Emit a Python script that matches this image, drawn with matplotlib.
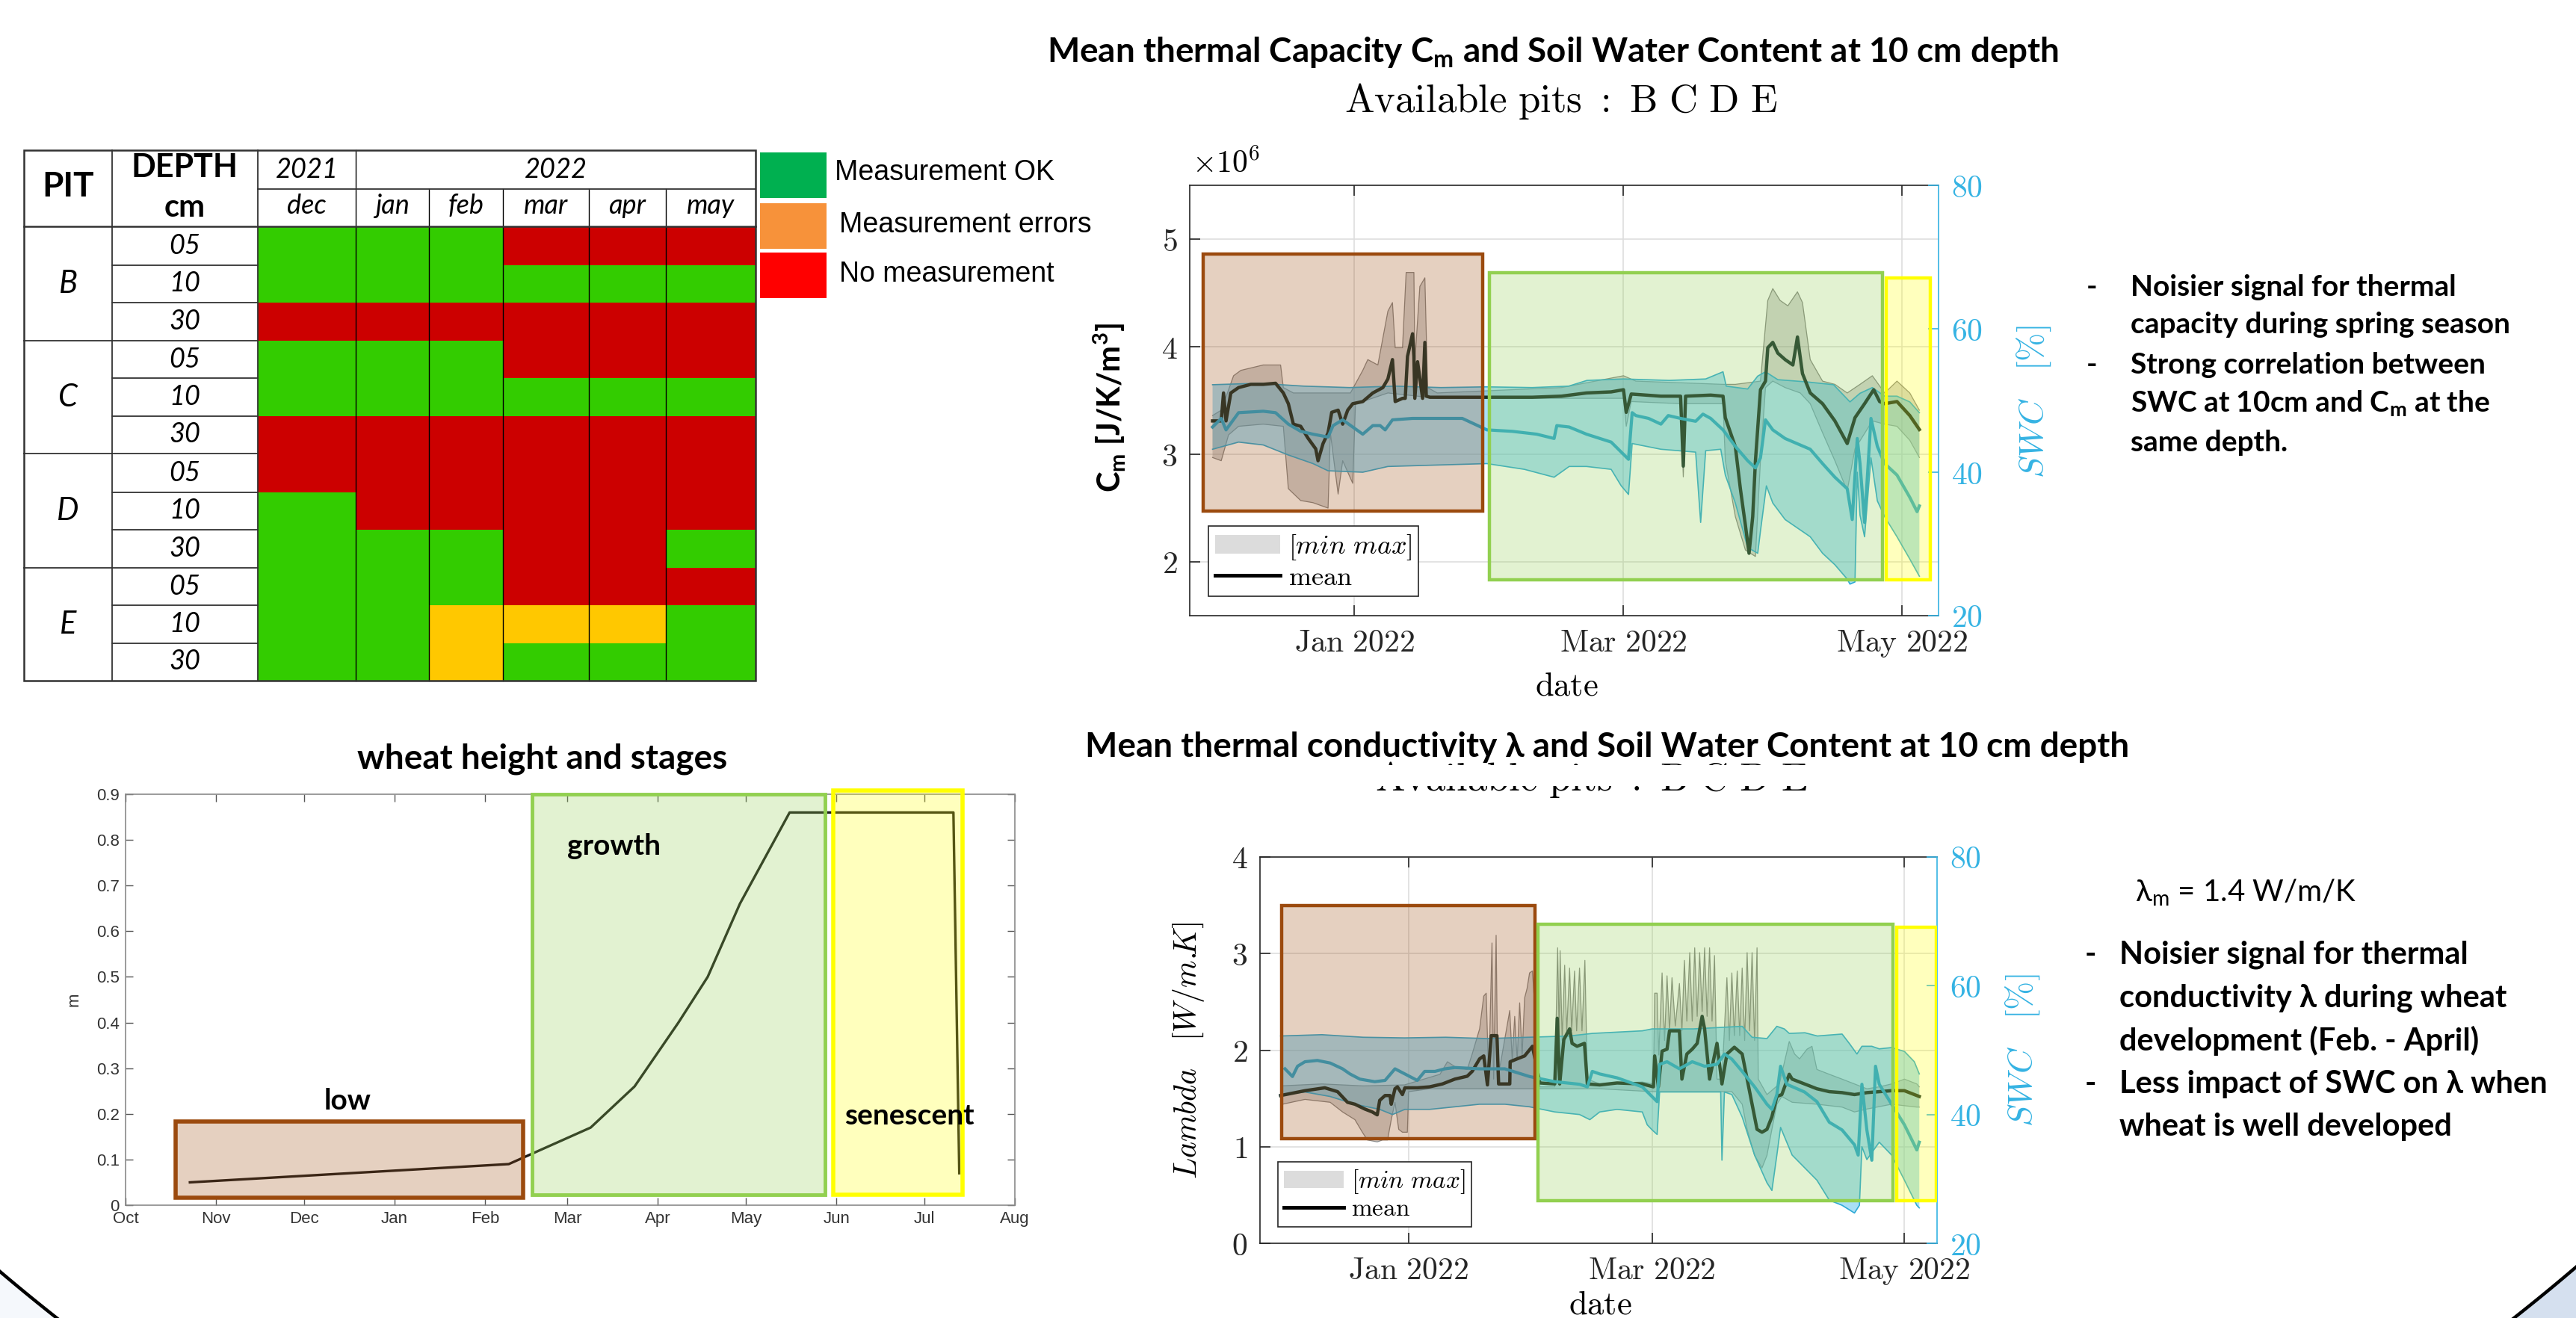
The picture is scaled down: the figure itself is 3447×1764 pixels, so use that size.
import numpy as np
import matplotlib
matplotlib.use('Agg')
import matplotlib.pyplot as plt
import matplotlib.dates as mdates
from matplotlib.patches import Rectangle, Polygon, Patch
from matplotlib.lines import Line2D
from matplotlib.ticker import FixedLocator, FixedFormatter
import datetime as dt

plt.rcParams['font.family'] = ['Lato', 'DejaVu Sans']
plt.rcParams['mathtext.fontset'] = 'cm'

W, H = 3447, 1764

# ======================= DATA =======================
# --- measurement availability table
table_years = ['2021', '2022']
table_months = ['dec', 'jan', 'feb', 'mar', 'apr', 'may']
table_pits = ['B', 'C', 'D', 'E']
table_depths = ['05', '10', '30']
# G = measurement OK, Y = measurement errors, R = no measurement
table_status = ['GGGRRR', 'GGGGGG', 'RRRRRR',
                'GGGRRR', 'GGGGGG', 'RRRRRR',
                'RRRRRR', 'GRRRRR', 'GGGRRG',
                'GGGRRR', 'GGYYYG', 'GGYGGG']
status_labels = ['Measurement OK', 'Measurement errors', 'No measurement']

# --- wheat height
wheat_dates = ['2021-10-23', '2022-02-09', '2022-03-09', '2022-03-24', '2022-04-08',
               '2022-04-18', '2022-04-29', '2022-05-16', '2022-07-11', '2022-07-13']
wheat_height = [0.05, 0.09, 0.17, 0.26, 0.40, 0.50, 0.66, 0.86, 0.86, 0.07]
wheat_stages = ['low', 'growth', 'senescent']

# --- thermal capacity Cm (x1e6 J/K/m3), (days since 2021-12-01, value)
cm_mean = [(0, 3.31), (1.9, 3.31), (2.4, 3.57), (2.95, 3.31), (4.0, 3.57), (5.7, 3.62), (8.4, 3.65),
           (11.1, 3.65), (13.8, 3.66), (15.5, 3.57), (16.6, 3.47), (17.7, 3.28), (19.3, 3.26),
           (20.9, 3.15), (22.6, 3.05), (23.1, 2.94), (24.2, 3.10), (25.3, 3.20), (26.1, 3.39),
           (27.5, 3.41), (28.5, 3.28), (29.6, 3.41), (30.7, 3.47), (32.9, 3.49), (35.1, 3.57),
           (37.3, 3.62), (38.4, 3.70), (39.4, 3.88), (40.0, 3.49), (41.6, 3.52), (42.2, 3.52),
           (42.7, 3.91), (43.8, 4.12), (44.1, 3.91), (44.3, 3.52), (44.9, 3.86), (46.0, 3.52),
           (46.5, 4.04), (46.8, 3.54), (47.6, 3.53), (49.2, 3.53), (60, 3.53), (70, 3.53),
           (76.4, 3.54), (81.9, 3.57), (87.3, 3.58), (90.0, 3.60), (90.6, 3.39), (91.7, 3.56),
           (98.2, 3.54), (102.5, 3.54), (103.1, 2.89), (103.6, 3.54), (109.1, 3.55), (111.8, 3.54),
           (112.3, 3.34), (114.5, 3.07), (115.6, 2.68), (116.7, 2.34), (117.5, 2.08), (118.3, 2.42),
           (118.9, 2.94), (120.0, 3.60), (121.1, 3.68), (121.6, 3.99), (122.7, 4.04), (123.8, 3.94),
           (125.4, 3.88), (127.1, 3.83), (128.1, 4.09), (129.2, 3.75), (130.9, 3.57), (133.6, 3.47),
           (136.3, 3.31), (139.0, 3.10), (140.7, 3.34), (142.8, 3.47), (144.8, 3.60), (146.1, 3.49),
           (147.2, 3.47), (149.9, 3.49), (152.7, 3.36), (154.8, 3.23)]
cm_max = [(0, 3.36), (1.9, 3.41), (4.6, 3.73), (6.2, 3.78), (11.1, 3.83), (14.9, 3.83), (15.5, 3.62),
          (17.7, 3.57), (22.0, 3.57), (30.2, 3.57), (32.9, 3.78), (34.0, 3.88), (36.2, 3.83),
          (38.4, 4.33), (39.4, 4.41), (40.0, 3.99), (41.6, 3.99), (42.4, 4.69), (44.1, 4.69),
          (44.3, 3.86), (45.4, 4.56), (46.5, 4.64), (47.1, 3.62), (49.2, 3.57), (76.4, 3.62),
          (90.0, 3.73), (92.7, 3.68), (111.8, 3.65), (114.5, 3.65), (120.0, 3.68), (121.6, 4.43),
          (122.7, 4.54), (124.3, 4.43), (126.0, 4.38), (128.1, 4.51), (129.2, 4.41), (130.9, 3.88),
          (133.6, 3.68), (136.3, 3.65), (139.0, 3.57), (141.8, 3.65), (144.5, 3.73), (147.2, 3.57),
          (149.9, 3.68), (152.7, 3.57), (154.8, 3.41)]
cm_min = [(0, 2.97), (1.9, 2.94), (3.5, 3.18), (5.7, 3.26), (11.1, 3.28), (15.5, 3.26), (16.6, 2.68),
          (19.3, 2.57), (22.0, 2.55), (25.3, 2.50), (25.8, 3.20), (27.5, 2.63), (28.5, 2.94),
          (30.7, 2.73), (31.3, 3.47), (32.9, 3.49), (38.4, 3.57), (49.2, 3.52), (76.4, 3.52),
          (90.0, 3.52), (90.6, 3.26), (91.7, 3.49), (102.5, 3.47), (103.1, 2.79), (103.6, 3.47),
          (111.8, 3.47), (112.3, 2.94), (114.5, 2.42), (116.7, 2.11), (117.8, 2.08), (118.9, 2.05),
          (120.0, 2.94), (121.1, 3.62), (122.7, 3.68), (125.4, 3.62), (128.7, 3.57), (130.9, 3.47),
          (133.6, 3.20), (136.3, 2.94), (139.0, 2.66), (140.7, 3.05), (144.5, 3.31), (147.2, 3.28),
          (149.9, 3.26), (152.7, 3.13), (154.8, 2.97)]
# --- soil water content (%) shown with the Cm chart
swc1_mean = [(0, 46.3), (1.9, 47.5), (2.95, 45.9), (5.7, 48.3), (11.1, 48.5), (13.8, 48.3), (16.6, 46.7),
             (19.3, 45.7), (22.0, 45.3), (25.3, 44.9), (26.4, 46.5), (28.5, 47.3), (30.7, 46.3),
             (32.9, 45.3), (35.1, 46.5), (36.7, 46.5), (37.8, 45.9), (39.4, 47.3), (43.8, 47.5),
             (49.2, 47.5), (54.7, 47.5), (57.4, 46.7), (60.1, 45.9), (65.6, 45.7), (71.0, 45.3),
             (74.8, 44.7), (75.4, 46.5), (78.1, 46.3), (81.9, 45.3), (87.3, 44.2), (91.1, 41.8),
             (91.9, 48.3), (92.7, 47.9), (95.5, 47.5), (98.2, 46.7), (99.8, 47.9), (102.5, 47.5),
             (105.8, 47.1), (107.4, 48.1), (109.1, 47.5), (111.8, 45.9), (114.5, 43.6), (117.2, 41.6),
             (118.9, 40.6), (120.0, 42.0), (121.1, 47.3), (122.7, 45.9), (125.4, 44.7), (130.9, 43.2),
             (133.6, 41.2), (136.3, 39.3), (139.0, 37.7), (140.1, 33.4), (141.2, 44.7), (141.8, 41.2),
             (142.8, 33.0), (144.2, 47.5), (145.6, 43.6), (147.2, 41.2), (149.9, 39.6), (152.7, 36.5),
             (154.3, 34.5), (154.8, 35.3)]
swc1_max = [(0, 52.2), (10, 52.4), (20, 52.0), (30, 51.8), (40, 52.0), (50, 51.8), (60, 51.9), (70, 51.8),
            (78, 52.0), (82, 52.8), (90, 53.0), (100, 52.8), (108, 53.0), (111.8, 54.0), (112.5, 52.0),
            (117.2, 51.6), (119.4, 53.4), (121.1, 54.0), (123.8, 52.9), (130, 52.6), (136, 52.2),
            (139.6, 49.8), (141.8, 51.0), (144.5, 51.8), (147.2, 50.6), (149.9, 50.6), (152.7, 49.8),
            (154.8, 48.3)]
swc1_min = [(0, 43.2), (5.7, 44.2), (11.1, 43.8), (16.6, 42.4), (22.0, 41.2), (25.3, 40.2), (32.9, 40.0),
            (38.4, 40.8), (49.2, 41.0), (60.1, 41.2), (68.3, 40.4), (74.8, 39.3), (78.1, 40.8),
            (81.9, 40.8), (87.3, 40.4), (89.5, 38.1), (91.1, 36.9), (91.9, 44.0), (98.2, 43.2),
            (105.8, 42.8), (106.9, 33.0), (108.0, 43.0), (111.3, 43.2), (112.3, 39.6), (114.5, 35.7),
            (117.2, 29.5), (119.4, 28.7), (120.0, 31.8), (121.3, 38.1), (122.7, 35.7), (125.4, 33.4),
            (130.9, 31.0), (133.6, 28.7), (136.3, 27.1), (139.0, 25.1), (139.6, 24.4), (140.7, 24.7),
            (141.2, 40.0), (141.8, 34.0), (142.8, 31.0), (144.2, 42.0), (145.6, 36.0), (147.2, 33.8),
            (149.9, 31.0), (152.7, 27.9), (154.8, 25.5)]

# --- thermal conductivity lambda (W/m.K)
lam_mean = [(0.0, 1.53), (5.9, 1.58), (10.7, 1.61), (13.8, 1.57), (16.2, 1.46), (18.0, 1.44), (20.4, 1.39),
            (22.2, 1.36), (23.4, 1.33), (24.0, 1.48), (25.3, 1.53), (26.5, 1.53), (26.8, 1.44),
            (27.7, 1.60), (28.3, 1.62), (29.5, 1.54), (30.1, 1.61), (33.1, 1.61), (36.1, 1.62),
            (39.2, 1.65), (42.2, 1.70), (45.2, 1.73), (46.4, 1.78), (48.2, 1.91), (49.2, 1.94),
            (50.1, 1.64), (51.0, 2.15), (52.4, 2.15), (52.8, 1.65), (55.5, 1.65), (55.6, 1.88),
            (57.3, 1.91), (59.1, 1.94), (61.0, 2.04), (62.8, 1.66), (66.4, 1.65), (67.0, 2.33),
            (67.6, 1.65), (68.6, 2.11), (70.0, 2.22), (70.6, 2.07), (71.8, 2.04), (73.6, 2.07),
            (74.3, 1.65), (77.3, 1.64), (81.5, 1.66), (87.6, 1.65), (90.3, 1.62), (90.6, 1.94),
            (91.5, 1.62), (92.4, 1.99), (93.6, 2.01), (94.2, 2.20), (96.6, 2.20), (97.2, 1.70),
            (98.4, 1.96), (99.7, 2.01), (100.9, 2.07), (102.1, 2.35), (102.7, 2.22), (103.9, 1.70),
            (105.7, 2.07), (106.9, 1.65), (108.1, 1.96), (109.9, 2.03), (111.8, 1.96), (113.0, 1.70),
            (114.2, 1.44), (115.4, 1.18), (116.6, 1.15), (117.8, 1.18), (119.0, 1.31), (120.2, 1.52),
            (121.4, 1.54), (123.2, 1.75), (123.9, 1.70), (126.9, 1.65), (129.9, 1.60), (132.9, 1.57),
            (136.0, 1.56), (139.0, 1.54), (142.0, 1.56), (145.0, 1.57), (148.0, 1.58), (151.1, 1.58),
            (154.1, 1.53), (154.7, 1.52)]
lam_max = [(0, 1.63), (10, 1.65), (20, 1.63), (30, 1.64), (38.6, 1.75), (40.4, 1.88), (42.2, 1.83),
           (45.2, 1.80), (46.4, 1.96), (48.2, 2.22), (49.2, 2.56), (49.8, 2.59), (50.4, 1.70),
           (51.2, 3.11), (51.6, 1.70), (52.2, 3.19), (52.6, 1.70), (55.5, 2.41), (56.1, 1.9),
           (56.7, 2.35), (57.3, 1.9), (57.9, 2.49), (58.5, 1.95), (59.1, 2.54), (59.7, 2.64),
           (60.3, 2.80), (61.0, 2.82), (62.8, 1.62), (66.4, 1.62), (67.1, 3.06), (67.5, 2.10),
           (67.7, 3.03), (68.2, 2.10), (68.8, 2.88), (69.3, 2.20), (70.0, 2.85), (70.5, 2.20),
           (71.2, 2.82), (71.7, 2.20), (72.4, 2.85), (73.0, 2.20), (73.7, 2.93), (74.3, 1.70),
           (77.3, 1.65), (87.6, 1.67), (90.3, 1.65), (90.6, 2.59), (91.2, 2.59), (91.6, 1.95),
           (92.4, 2.80), (93.0, 2.10), (93.6, 2.77), (94.2, 2.20), (94.8, 2.75), (95.6, 2.25),
           (96.6, 2.69), (97.2, 2.20), (97.8, 2.93), (98.4, 2.30), (99.1, 3.01), (99.7, 2.30),
           (100.3, 3.06), (100.9, 2.35), (101.5, 3.01), (102.1, 2.40), (102.7, 3.06), (103.3, 2.35),
           (103.9, 3.06), (104.5, 2.30), (105.1, 2.98), (105.7, 1.70), (106.9, 1.70), (108.1, 2.75),
           (108.7, 2.10), (109.3, 2.80), (109.9, 2.15), (110.6, 2.82), (111.2, 2.15), (111.8, 2.85),
           (112.4, 2.10), (113.0, 3.01), (113.6, 2.20), (114.2, 3.01), (114.8, 2.10), (115.4, 3.06),
           (115.7, 1.70), (117.8, 1.54), (120.8, 1.65), (123.2, 2.09), (124.5, 1.96), (125.7, 1.91),
           (127.5, 2.01), (128.7, 2.04), (129.9, 1.80), (132.9, 1.75), (136.0, 1.70), (139.0, 1.65),
           (142.0, 1.60), (145.0, 1.62), (148.0, 1.65), (151.1, 1.70), (154.1, 1.65), (154.7, 1.62)]
lam_min = [(0.45, 1.44), (5.9, 1.49), (12.0, 1.46), (15.0, 1.36), (18.0, 1.28), (19.8, 1.15), (21.0, 1.07),
           (23.4, 1.05), (24.7, 1.07), (25.9, 1.07), (26.8, 1.28), (27.7, 1.46), (28.6, 1.18),
           (29.5, 1.15), (30.7, 1.15), (31.0, 1.57), (36.1, 1.60), (77.3, 1.60), (90.0, 1.57),
           (106.9, 1.57), (109.3, 1.57), (111.8, 1.44), (113.0, 1.18), (114.8, 0.91), (116.6, 0.78),
           (117.8, 0.91), (119.0, 1.18), (120.2, 1.44), (121.4, 1.52), (123.9, 1.46), (129.9, 1.44),
           (136.0, 1.41), (139.0, 1.36), (142.0, 1.39), (148.0, 1.44), (154.1, 1.41), (154.7, 1.41)]
# --- soil water content (%) shown with the lambda chart
swc2_mean = [(1.06, 47.1), (2.87, 45.9), (4.1, 47.5), (5.9, 48.2), (8.9, 48.4), (12.0, 48.0), (15.0, 47.1),
             (16.8, 46.3), (19.2, 45.5), (22.8, 45.1), (25.3, 45.3), (27.7, 47.1), (30.1, 46.3),
             (33.1, 45.3), (34.9, 46.7), (37.4, 46.7), (39.8, 47.1), (42.2, 47.3), (48.2, 47.1),
             (54.3, 47.1), (57.3, 46.5), (60.3, 45.9), (66.4, 45.1), (72.4, 44.7), (74.3, 44.3),
             (75.5, 46.7), (77.3, 46.3), (81.5, 45.7), (87.6, 44.3), (91.2, 42.0), (91.8, 47.8),
             (93.6, 48.2), (96.6, 47.1), (99.7, 48.2), (102.7, 47.5), (105.7, 47.8), (107.5, 49.4),
             (109.3, 48.6), (111.8, 46.7), (114.8, 44.3), (117.8, 41.6), (119.0, 40.8), (120.2, 43.1),
             (121.1, 47.5), (122.6, 44.7), (126.9, 43.5), (129.9, 42.0), (132.9, 38.8), (136.0, 37.6),
             (139.0, 35.3), (139.9, 33.7), (140.8, 44.7), (142.0, 37.6), (143.2, 32.9), (144.1, 47.5),
             (145.0, 44.7), (148.0, 41.6), (151.1, 38.4), (154.1, 34.5), (154.7, 35.7)]
swc2_max = [(0, 52.2), (10, 52.4), (20, 52.0), (30, 51.9), (40, 52.0), (50, 51.8), (60, 52.0), (70, 52.2),
            (75.5, 52.6), (87.6, 53.0), (90, 53.3), (100, 53.3), (105.7, 53.5), (111.8, 53.7),
            (114.2, 52.0), (117.8, 51.8), (120.2, 53.7), (122, 53.3), (123.2, 52.6), (127, 52.7),
            (130, 52.2), (136, 52.5), (137.8, 51.0), (139.6, 49.4), (140.8, 50.6), (143.2, 50.6),
            (145, 50.2), (148, 50.4), (151.1, 49.8), (153.5, 48.2), (154.7, 46.3)]
swc2_min = [(0.45, 43.1), (5.9, 43.5), (12.0, 42.8), (18.0, 41.6), (24.0, 40.8), (27.1, 40.0), (30.1, 40.8),
            (36.1, 40.8), (42.2, 41.2), (48.2, 41.6), (54.3, 41.6), (60.3, 41.2), (66.4, 40.4),
            (72.4, 40.0), (74.9, 39.2), (77.3, 40.4), (81.5, 40.8), (87.6, 40.4), (88.8, 38.4),
            (90.0, 37.6), (91.2, 36.9), (91.8, 43.5), (99.7, 43.5), (106.6, 43.5), (106.9, 32.9),
            (107.5, 43.5), (109.3, 43.1), (111.8, 39.6), (114.8, 33.7), (117.8, 29.4), (119.0, 28.2),
            (120.2, 33.7), (121.1, 38.0), (123.9, 33.7), (129.9, 29.8), (132.9, 26.7), (136.0, 25.9),
            (139.0, 24.7), (140.2, 25.9), (140.8, 35.0), (142.0, 33.0), (145.0, 35.7), (148.0, 33.7),
            (151.1, 29.8), (154.1, 25.9), (154.7, 25.5)]

# ======================= STYLE =======================
CYAN = '#35b3e3'
BROWN_E, GREEN_E, YELLOW_E = '#9b4a0e', '#92d050', '#ffff00'
STAGE_ALPHA = 0.26
STATUS_COL = {'G': '#33cc00', 'R': '#cc0000', 'Y': '#ffc800'}
LEG_COL = ['#00b050', '#f7923a', '#ff0000']

d0 = mdates.date2num(dt.datetime(2021, 12, 1))


def uz(pairs):
    a = np.asarray(pairs, float)
    return a[:, 0] + d0, a[:, 1]


def px_rect(l, t, r, b):
    return [l / W, 1 - b / H, (r - l) / W, (b - t) / H]


def face(col):
    return matplotlib.colors.to_rgba(col, STAGE_ALPHA)


fig = plt.figure(figsize=(W / 100, H / 100), dpi=100)
bg = fig.add_axes([0, 0, 1, 1])
bg.set_xlim(0, W)
bg.set_ylim(H, 0)
bg.axis('off')
bg.set_zorder(-5)

# ---------- slide border arcs
cx, cy, R = 1720, -322, 2656
xa = np.linspace(0, 95, 80)
ya = cy + np.sqrt(R ** 2 - (xa - cx) ** 2)
bg.add_patch(Polygon(np.c_[np.r_[xa, 95, 0], np.r_[ya, 1800, 1800]], closed=True,
                     facecolor='#f5f8fc', edgecolor='none'))
bg.plot(xa, ya, color='black', lw=3.2)
xb = np.linspace(3335, W, 80)
yb = cy + np.sqrt(R ** 2 - (xb - cx) ** 2)
bg.add_patch(Polygon(np.c_[np.r_[xb, W, 3335], np.r_[yb, 1800, 1800]], closed=True,
                     facecolor='#d5e0ef', edgecolor='none'))
bg.plot(xb, yb, color='black', lw=3.2)

# ---------- availability table
tx = [31.5, 150, 345, 476, 574, 673, 788, 891, 1011]
ty = [303, 355, 405, 456, 506, 557, 607, 659, 709, 760, 810, 861, 911]
t_top, t_mid = 201, 253
for r, row in enumerate(table_status):
    for c, s in enumerate(row):
        bg.add_patch(Rectangle((tx[c + 2], ty[r]), tx[c + 3] - tx[c + 2], ty[r + 1] - ty[r],
                               facecolor=STATUS_COL[s], edgecolor='none', zorder=1))
lc = '#333333'
for x in tx[4:8]:
    bg.plot([x, x], [t_mid, ty[-1]], color='black', lw=1.0, zorder=2)
bg.plot([tx[3], tx[3]], [t_top, ty[-1]], color='black', lw=1.0, zorder=2)
for x in [tx[1], tx[2]]:
    bg.plot([x, x], [t_top, ty[-1]], color=lc, lw=1.3, zorder=2)
bg.plot([tx[2], tx[-1]], [t_mid, t_mid], color=lc, lw=1.3, zorder=2)
bg.plot([tx[0], tx[-1]], [ty[0], ty[0]], color=lc, lw=1.8, zorder=2)
for i, y in enumerate(ty[1:-1], start=1):
    x0 = tx[0] if i % 3 == 0 else tx[1]
    bg.plot([x0, tx[2]], [y, y], color=lc, lw=1.3, zorder=2)
bg.add_patch(Rectangle((tx[0], t_top), tx[-1] - tx[0], ty[-1] - t_top, facecolor='none',
                       edgecolor=lc, lw=1.8, zorder=3))
bg.text(91, 250, 'PIT', fontsize=33, fontweight='bold', ha='center', va='center')
bg.text(247, 224, 'DEPTH', fontsize=31, fontweight='bold', ha='center', va='center')
bg.text(247, 278, 'cm', fontsize=30, fontweight='bold', ha='center', va='center')
bg.text((tx[2] + tx[3]) / 2, 227, table_years[0], fontsize=26, style='italic', ha='center', va='center')
bg.text((tx[3] + tx[-1]) / 2, 227, table_years[1], fontsize=26, style='italic', ha='center', va='center')
for c, m in enumerate(table_months):
    bg.text((tx[c + 2] + tx[c + 3]) / 2, 276, m, fontsize=26, style='italic', ha='center', va='center')
for p, pit in enumerate(table_pits):
    bg.text(91, (ty[3 * p] + ty[3 * p + 3]) / 2, pit, fontsize=30, style='italic', ha='center', va='center')
    for k, dep in enumerate(table_depths):
        r = 3 * p + k
        bg.text(247, (ty[r] + ty[r + 1]) / 2, dep, fontsize=26, style='italic', ha='center', va='center')
leg_y = [(204, 265), (272, 333), (338, 399)]
leg_tx = [(1117, 231), (1123, 301), (1123, 367)]
for (a, b), col, lab, (lx, ly) in zip(leg_y, LEG_COL, status_labels, leg_tx):
    bg.add_patch(Rectangle((1017, a), 89, b - a, facecolor=col, edgecolor='none'))
    bg.text(lx, ly, lab, fontsize=27, family=['Liberation Sans', 'DejaVu Sans'], ha='left', va='center')

# ---------- wheat height chart
axw = fig.add_axes(px_rect(168, 1063, 1358, 1613))
wx = mdates.date2num(np.array(wheat_dates, dtype='datetime64[D]'))
axw.plot(wx, wheat_height, color='#1a1a1a', lw=2.4, zorder=3)
axw.set_xlim(mdates.date2num(dt.datetime(2021, 10, 1)), mdates.date2num(dt.datetime(2022, 8, 1)))
axw.set_ylim(0, 0.9)
axw.xaxis.set_major_locator(mdates.MonthLocator())
axw.xaxis.set_major_formatter(mdates.DateFormatter('%b'))
axw.set_yticks(np.round(np.arange(0, 0.91, 0.1), 1))
axw.set_yticklabels(['0'] + ['%.1f' % v for v in np.arange(0.1, 0.91, 0.1)])
axw.tick_params(direction='in', top=True, right=True, length=7, width=1, colors='#555555',
                labelsize=16, labelcolor='#333333', pad=6)
for lab in axw.get_xticklabels() + axw.get_yticklabels():
    lab.set_family(['Liberation Sans Narrow', 'Liberation Sans'])
for s in axw.spines.values():
    s.set_color('#8a8a8a')
    s.set_linewidth(1.2)
axw.set_ylabel('m', fontsize=16, family=['Liberation Sans'], color='#333333', labelpad=14)
wstage = [('2021-10-18', '2022-02-14', 0.016, 0.183, BROWN_E, 4.0),
          ('2022-02-17', '2022-05-28', 0.0226, 0.900, GREEN_E, 3.5),
          ('2022-05-31', '2022-07-14', 0.0226, 0.908, YELLOW_E, 4.0)]
for a, b, y0, y1, ec, lw in wstage:
    xa0, xa1 = mdates.date2num(np.datetime64(a)), mdates.date2num(np.datetime64(b))
    axw.add_patch(Rectangle((xa0, y0), xa1 - xa0, y1 - y0, facecolor=face(ec), edgecolor=ec, lw=lw,
                            zorder=4, clip_on=False))
for name, d, y in zip(wheat_stages, ['2021-12-16', '2022-03-17', '2022-06-26'], [0.229, 0.787, 0.196]):
    axw.text(mdates.date2num(np.datetime64(d)), y, name, fontsize=28, fontweight='bold',
             ha='center', va='center', zorder=6)
bg.text(726, 1016, 'wheat height and stages', fontsize=33, fontweight='bold', ha='center', va='center')


# ---------- thermal charts
def thermal_chart(box, ylim, yticks, mean, vmax, vmin, s_mean, s_max, s_min, stages,
                  leg_xy, leg_fs, ylabel, ylab_kw, ylab_xy, swc_xy, date_y):
    ax = fig.add_axes(px_rect(*box))
    ax2 = ax.twinx()
    xu, yu = uz(vmax)
    xl, yl = uz(vmin)
    ax.fill(np.r_[xu, xl[::-1]], np.r_[yu, yl[::-1]], facecolor='#8c8c8c', alpha=0.38,
            edgecolor='none', zorder=2)
    ax.plot(xu, yu, color='#6f6f6f', lw=0.9, alpha=0.8, zorder=2.1)
    ax.plot(xl, yl, color='#6f6f6f', lw=0.9, alpha=0.8, zorder=2.1)
    xu, yu = uz(s_max)
    xl, yl = uz(s_min)
    ax2.fill(np.r_[xu, xl[::-1]], np.r_[yu, yl[::-1]], facecolor='#4dbeee', alpha=0.48,
             edgecolor='none', zorder=2)
    ax2.plot(xu, yu, color='#2eaad6', lw=1.2, zorder=2.1)
    ax2.plot(xl, yl, color='#2eaad6', lw=1.2, zorder=2.1)
    xm, ym = uz(mean)
    ax2.plot(xm, ym, color='#16302d', lw=3.2, zorder=3, transform=ax.transData)
    xm, ym = uz(s_mean)
    ax2.plot(xm, ym, color='#25a6d2', lw=3.0, zorder=3.5)
    for a, b, y0, y1, ec in stages:
        ax2.add_patch(Rectangle((d0 + a, y0), b - a, y1 - y0, transform=ax.transData,
                                facecolor=face(ec), edgecolor=ec, lw=3.2, zorder=5))
    ax.set_xlim(d0 - 5, d0 + 159)
    ax.set_ylim(*ylim)
    ax2.set_ylim(20, 80)
    xt = [mdates.date2num(dt.datetime(2022, m, 1)) for m in (1, 3, 5)]
    ax.xaxis.set_major_locator(FixedLocator(xt))
    ax.xaxis.set_major_formatter(FixedFormatter([r'$\mathrm{%s\ 2022}$' % m for m in ('Jan', 'Mar', 'May')]))
    ax.yaxis.set_major_locator(FixedLocator(yticks))
    ax.yaxis.set_major_formatter(FixedFormatter([r'$%d$' % v for v in yticks]))
    ax2.yaxis.set_major_locator(FixedLocator([20, 40, 60, 80]))
    ax2.yaxis.set_major_formatter(FixedFormatter([r'$%d$' % v for v in (20, 40, 60, 80)]))
    ax.grid(True, color='#dedede', lw=1.2)
    ax.set_axisbelow(True)
    ax.tick_params(direction='in', length=10, width=1.2, labelsize=30, pad=12, top=True,
                   right=False, colors='#262626')
    ax2.tick_params(axis='y', direction='in', length=10, width=1.2, labelsize=30, pad=12, colors=CYAN)
    for k in ('left', 'bottom', 'top'):
        ax.spines[k].set_color('#262626')
        ax.spines[k].set_linewidth(1.2)
        ax2.spines[k].set_visible(False)
    ax.spines['right'].set_visible(False)
    ax2.spines['right'].set_color(CYAN)
    ax2.spines['right'].set_linewidth(1.2)
    ax.set_xlabel(r'$\mathrm{date}$', fontsize=32)
    ax.xaxis.set_label_coords(0.503, date_y)
    ax.set_ylabel(ylabel, **ylab_kw)
    ax.yaxis.set_label_coords(*ylab_xy)
    ax2.set_ylabel(r'$SWC\quad\mathrm{[\%]}$', fontsize=33, color=CYAN)
    ax2.yaxis.set_label_coords(*swc_xy)
    handles = [Patch(facecolor='#dcdcdc', edgecolor='none'), Line2D([], [], color='black', lw=3.5)]
    leg = ax2.legend(handles, [r'$[min\ max]$', r'$\mathrm{mean}$'], loc='lower left',
                     bbox_to_anchor=leg_xy, fontsize=leg_fs, frameon=True, fancybox=False,
                     framealpha=1, edgecolor='#262626', borderpad=0.25, labelspacing=0.1,
                     handlelength=2.4, handletextpad=0.3, borderaxespad=0)
    leg.get_frame().set_linewidth(1.2)
    leg.set_zorder(10)
    return ax, ax2


cm_stages = [(-2.06, 59.2, 2.47, 4.86, BROWN_E),
             (60.6, 146.8, 1.83, 4.69, GREEN_E),
             (147.6, 157.2, 1.83, 4.64, YELLOW_E)]
ax_c, ax_c2 = thermal_chart((1592, 248, 2594, 824), (1.5, 5.5), [2, 3, 4, 5], cm_mean, cm_max, cm_min,
                            swc1_mean, swc1_max, swc1_min, cm_stages, (0.025, 0.045), 26,
                            r'C$_\mathregular{m}$ [J/K/m$^\mathregular{3}$]',
                            dict(fontsize=30, fontweight='bold', math_fontfamily='custom'),
                            (-0.083, 0.484), (1.101, 0.497), -0.128)
ax_c.text(0.003, 1.052, r'$\times10^{6}$', transform=ax_c.transAxes, fontsize=30, ha='left', va='center')

lam_stages = [(0.27, 61.6, 1.08, 3.50, BROWN_E),
              (62.3, 148.4, 0.44, 3.30, GREEN_E),
              (149.3, 158.8, 0.44, 3.27, YELLOW_E)]
ax_l, ax_l2 = thermal_chart((1686, 1147, 2592, 1664), (0, 4), [0, 1, 2, 3, 4], lam_mean, lam_max, lam_min,
                            swc2_mean, swc2_max, swc2_min, lam_stages, (0.026, 0.043), 24,
                            r'$Lambda\quad[W/m.\!\!K]$', dict(fontsize=30), (-0.079, 0.499),
                            (1.098, 0.5), -0.118)

# ---------- titles
bg.text(2078, 70, r'Mean thermal Capacity C$_\mathregular{m}$ and Soil Water Content at 10 cm depth',
        fontsize=33, fontweight='bold', ha='center', va='center', math_fontfamily='custom')
bg.text(2089, 136, r'$\mathrm{Available\ pits\ :\ B\ C\ D\ E}$', fontsize=38, ha='center', va='center')
bg.text(2130, 1058, r'$\mathrm{Available\ pits\ :\ B\ C\ D\ E}$', fontsize=38, ha='center',
        va='baseline', zorder=1)
bg.add_patch(Rectangle((1800, 1024), 700, 28, facecolor='white', edgecolor='none', zorder=2))
bg.text(2151, 1000, 'Mean thermal conductivity λ and Soil Water Content at 10 cm depth',
        fontsize=33, fontweight='bold', ha='center', va='center', zorder=3)

# ---------- comments on the right
blk1 = ['Noisier signal for thermal', 'capacity during spring season', 'Strong correlation between',
        r'SWC at 10cm and C$_\mathregular{m}$ at the', 'same depth.']
for i, (txt, y) in enumerate(zip(blk1, [384, 434, 488, 540, 593])):
    bg.text(2851, y, txt, fontsize=28, fontweight='bold', ha='left', va='center', math_fontfamily='custom')
    if i in (0, 2):
        bg.text(2792, y, '-', fontsize=28, fontweight='bold', ha='left', va='center')
bg.text(2857, 1195, r'λ$_\mathregular{m}$ = 1.4 W/m/K', fontsize=29, ha='left', va='center',
        math_fontfamily='custom')
blk2 = ['Noisier signal for thermal', 'conductivity λ during wheat', 'development (Feb. - April)',
        'Less impact of SWC on λ when', 'wheat is well developed']
for i, (txt, y) in enumerate(zip(blk2, [1278, 1336, 1393, 1451, 1508])):
    bg.text(2836, y, txt, fontsize=30, fontweight='bold', ha='left', va='center')
    if i in (0, 3):
        bg.text(2790, y, '-', fontsize=30, fontweight='bold', ha='left', va='center')

fig.savefig('out.png', dpi=100, facecolor='white')
